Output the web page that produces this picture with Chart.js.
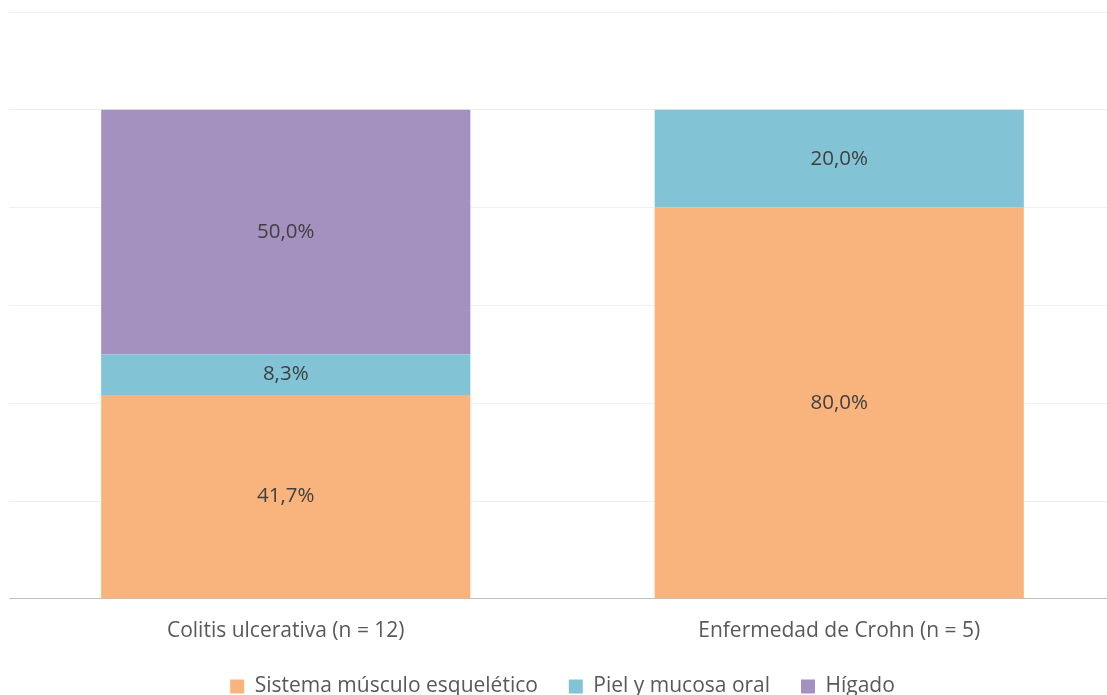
<!DOCTYPE html>
<html>
<head>
<meta charset="utf-8">
<script src="https://cdn.jsdelivr.net/npm/chart.js@4"></script>
<style>
  html, body { margin: 0; padding: 0; background: #fff; overflow: hidden; }
  #wrap { width: 1116px; height: 707px; }
</style>
</head>
<body>
<div id="wrap"><canvas id="grafico"></canvas></div>
<script>
const categorias = ["Colitis ulcerativa (n = 12)", "Enfermedad de Crohn (n = 5)"];
const musculoEsqueletico = [41.7, 80.0];
const pielMucosa = [8.3, 20.0];
const higado = [50.0, 0];
const series = ["Sistema músculo esquelético", "Piel y mucosa oral", "Hígado"];
const colores = ["#F9B47D", "#82C4D6", "#A491C0"];

const fuente = "'Open Sans', sans-serif";

// etiquetas dentro de cada tramo
const etiquetas = {
  id: 'etiquetas',
  afterDatasetsDraw(chart) {
    const ctx = chart.ctx;
    ctx.save();
    ctx.font = "20.5px " + fuente;
    ctx.fillStyle = "#404040";
    ctx.textAlign = "center";
    ctx.textBaseline = "middle";
    chart.data.datasets.forEach((ds, i) => {
      chart.getDatasetMeta(i).data.forEach((bar, j) => {
        const v = ds.data[j];
        if (!v) return;
        ctx.fillText(v.toFixed(1).replace(".", ",") + "%", bar.x, (bar.y + bar.base) / 2);
      });
    });
    ctx.restore();
  }
};

new Chart(document.getElementById("grafico"), {
  type: 'bar',
  data: {
    labels: categorias,
    datasets: [
      { label: series[0], data: musculoEsqueletico, backgroundColor: colores[0] },
      { label: series[1], data: pielMucosa, backgroundColor: colores[1] },
      { label: series[2], data: higado, backgroundColor: colores[2] }
    ]
  },
  options: {
    responsive: true,
    maintainAspectRatio: false,
    animation: false,
    layout: { padding: { left: 9, right: 0, top: 12, bottom: 0 } },
    datasets: { bar: { categoryPercentage: 1, barPercentage: 0.667 } },
    scales: {
      x: {
        stacked: true,
        grid: { display: false },
        border: { color: "#BFBFBF", width: 1 },
        ticks: { color: "#595959", font: { family: fuente, size: 21 }, padding: 12 }
      },
      y: {
        stacked: true,
        min: 0,
        max: 120,
        ticks: { display: false, stepSize: 20 },
        grid: { color: "#EFEFEF", drawTicks: false },
        border: { display: false }
      }
    },
    plugins: {
      legend: {
        position: 'bottom',
        labels: {
          color: "#595959",
          font: { family: fuente, size: 21 },
          boxWidth: 14,
          boxHeight: 14,
          padding: 20,
          // un poco más de aire entre elementos
          generateLabels(chart) {
            const items = Chart.defaults.plugins.legend.labels.generateLabels(chart);
            items.forEach((it, i) => { if (i < items.length - 1) it.text += "  "; });
            return items;
          }
        }
      },
      tooltip: { enabled: false }
    }
  },
  plugins: [etiquetas]
});
</script>
</body>
</html>
